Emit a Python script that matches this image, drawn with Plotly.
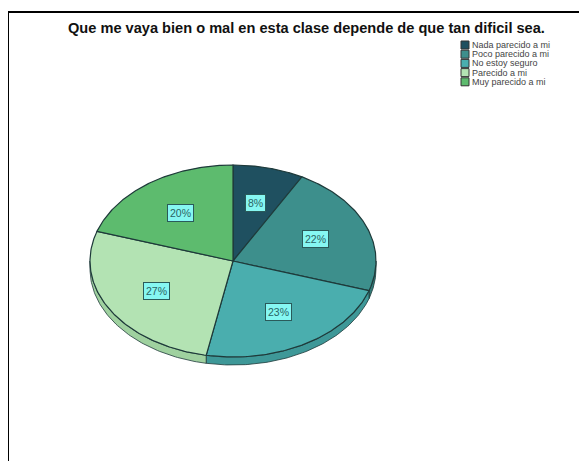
import numpy as np
import plotly.graph_objects as go

categories = ["Nada parecido a mi", "Poco parecido a mi", "No estoy seguro",
              "Parecido a mi", "Muy parecido a mi"]
values = [8, 22, 23, 27, 20]
labels = ["8%", "22%", "23%", "27%", "20%"]
title = "Que me vaya bien o mal en esta clase depende de que tan dificil sea."

top_colors = ["#1f5060", "#3d8f8c", "#4aaeae", "#b3e3b3", "#5dbb6e"]
side_colors = ["#17404c", "#327a77", "#3e9898", "#9fd19f", "#4fa75f"]
edge = "#1e3a3a"

W, H = 587, 461
OFF = 8  # page body margin
cx, cy, a, b, depth = 233, 261, 143, 96, 8
label_r = 0.62


def pt(t, dy=0.0):
    return cx + a * np.sin(t), cy - b * np.cos(t) + dy


fig = go.Figure()
total = float(sum(values))
bounds = np.concatenate([[0], np.cumsum(values)]) / total * 2 * np.pi

# side band (front half only)
for i in range(len(values)):
    t0, t1 = max(bounds[i], np.pi / 2), min(bounds[i + 1], 3 * np.pi / 2)
    if t1 <= t0:
        continue
    ts = np.linspace(t0, t1, 80)
    xt, yt = pt(ts)
    xb, yb = pt(ts[::-1], depth)
    xs = np.concatenate([xt, xb, xt[:1]])
    ys = np.concatenate([yt, yb, yt[:1]])
    fig.add_trace(go.Scatter(x=xs, y=ys, mode="lines", fill="toself",
                             fillcolor=side_colors[i],
                             line=dict(color=edge, width=0.8),
                             hoverinfo="skip", showlegend=False))

# top faces
for i in range(len(values)):
    ts = np.linspace(bounds[i], bounds[i + 1], 120)
    xa, ya = pt(ts)
    xs = np.concatenate([[cx], xa, [cx]])
    ys = np.concatenate([[cy], ya, [cy]])
    fig.add_trace(go.Scatter(x=xs, y=ys, mode="lines", fill="toself",
                             fillcolor=top_colors[i],
                             line=dict(color=edge, width=1.2),
                             name=categories[i], hoverinfo="name",
                             showlegend=False))
    tm = (bounds[i] + bounds[i + 1]) / 2
    lx, ly = cx + a * label_r * np.sin(tm), cy - b * label_r * np.cos(tm)
    fig.add_annotation(x=lx, y=ly, text=labels[i], showarrow=False,
                       font=dict(family="Liberation Sans", size=10.5, color="#2a6464"),
                       bgcolor="#86f7f2", bordercolor="#2a5a5a", borderwidth=1,
                       borderpad=2)

# custom compact legend
leg_x, leg_y, leg_dy = 465, 45, 9.2
fig.add_trace(go.Scatter(
    x=[leg_x] * len(categories),
    y=[leg_y + k * leg_dy for k in range(len(categories))],
    mode="markers",
    marker=dict(symbol="square", size=8, color=top_colors,
                line=dict(color="#333333", width=1)),
    hoverinfo="skip", showlegend=False))
for k, c in enumerate(categories):
    fig.add_annotation(x=leg_x + 5, y=leg_y + k * leg_dy, text=c, xanchor="left",
                       showarrow=False,
                       font=dict(family="Liberation Sans", size=9, color="#444444"))

fig.add_annotation(x=306, y=28, text="<b>" + title + "</b>", showarrow=False,
                   font=dict(family="Liberation Sans", size=14.6, color="#111111"))

# frame (top and left edges)
fig.add_shape(type="line", x0=8, y0=12, x1=W + OFF, y1=12, line=dict(color="black", width=2))
fig.add_shape(type="line", x0=8, y0=12, x1=8, y1=H + OFF, line=dict(color="black", width=2))

fig.update_layout(
    width=W, height=H, margin=dict(l=0, r=0, t=0, b=0),
    paper_bgcolor="white", plot_bgcolor="white",
    xaxis=dict(range=[OFF, W + OFF], visible=False, fixedrange=True),
    yaxis=dict(range=[H + OFF, OFF], visible=False, fixedrange=True),
)
fig.write_html("out.html")
